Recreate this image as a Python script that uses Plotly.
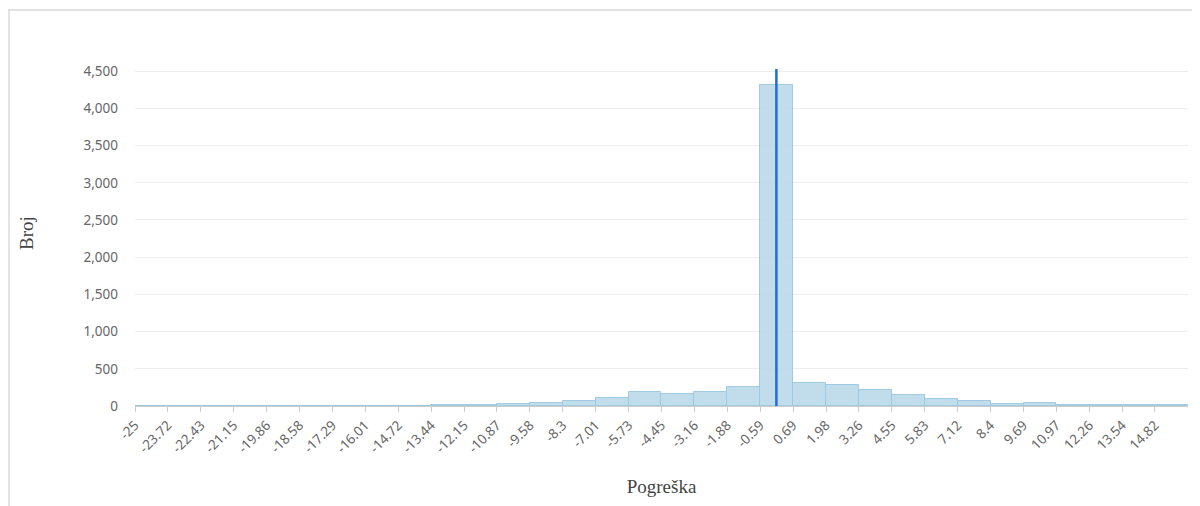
import plotly.graph_objects as go

# Bin edges (tick labels) and counts
tick_labels = ["-25", "-23.72", "-22.43", "-21.15", "-19.86", "-18.58", "-17.29", "-16.01",
               "-14.72", "-13.44", "-12.15", "-10.87", "-9.58", "-8.3", "-7.01", "-5.73",
               "-4.45", "-3.16", "-1.88", "-0.59", "0.69", "1.98", "3.26", "4.55",
               "5.83", "7.12", "8.4", "9.69", "10.97", "12.26", "13.54", "14.82"]
upper_edge = 16.11
counts = [3, 0, 0, 0, 3, 3, 3, 4, 4, 8, 10, 30, 40, 63, 107, 184,
          166, 188, 251, 4320, 305, 287, 215, 143, 90, 67, 31, 36, 13, 13, 9, 9]
mean_x = 0.04
mean_top = 4530

edges = [float(t) for t in tick_labels] + [upper_edge]
centers = [(edges[i] + edges[i + 1]) / 2 for i in range(len(counts))]
widths = [edges[i + 1] - edges[i] for i in range(len(counts))]

W, H = 1192, 498          # page body has an 8px margin
ML, MR, MT, MB = 127, 12, 52, 100
PW, PH = W - ML - MR, H - MT - MB

fig = go.Figure()
fig.add_trace(go.Bar(
    x=centers, y=counts, width=widths,
    marker=dict(color="rgba(182,215,232,0.85)",
                line=dict(color="rgba(155,199,223,0.9)", width=1)),
    hoverinfo="y",
))
fig.add_trace(go.Scatter(
    x=[mean_x, mean_x], y=[0, mean_top], mode="lines",
    line=dict(color="#1f6ae6", width=2.5), hoverinfo="skip",
))

tick_font = dict(family="Noto Sans, Open Sans, sans-serif", size=13.5, color="#666666")
title_font = dict(family="Liberation Serif, Times New Roman, serif", size=19, color="#444444")

fig.update_layout(
    width=W, height=H,
    margin=dict(l=ML, r=MR, t=MT, b=MB),
    paper_bgcolor="white", plot_bgcolor="white",
    showlegend=False, bargap=0,
    xaxis=dict(
        range=[edges[0], edges[-1]],
        tickmode="array", tickvals=edges[:-1], ticktext=tick_labels,
        tickangle=-45, tickfont=tick_font,
        ticks="outside", ticklen=5, tickcolor="#cccccc",
        showline=True, linecolor="#cccccc", linewidth=1,
        showgrid=False, zeroline=False,
        title=dict(text="Pogreška", font=title_font, standoff=24),
    ),
    yaxis=dict(
        range=[0, 4650], dtick=500, tickformat=",",
        tickfont=tick_font, ticks="", ticklabelstandoff=16,
        showgrid=True, gridcolor="#eeeeee", gridwidth=1,
        zeroline=False, showline=False,
        title=dict(text="Broj", font=title_font, standoff=44),
    ),
    shapes=[
        dict(type="line", xref="paper", yref="paper",
             x0=-ML / PW, x1=1 + (MR + 5) / PW, y0=(H - 2 - MB) / PH, y1=(H - 2 - MB) / PH,
             line=dict(color="#d9d9d9", width=1.5)),
        dict(type="line", xref="paper", yref="paper",
             x0=-(ML - 1) / PW, x1=-(ML - 1) / PW, y0=-(MB + 5) / PH, y1=(H - 2 - MB) / PH,
             line=dict(color="#d9d9d9", width=1.5)),
    ],
)

fig.write_html("out.html")
